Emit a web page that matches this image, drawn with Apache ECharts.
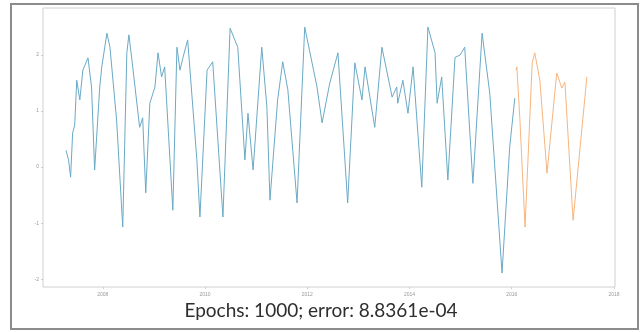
<!DOCTYPE html>
<html>
<head>
<meta charset="utf-8">
<script src="https://cdn.jsdelivr.net/npm/echarts@6/dist/echarts.min.js"></script>
<style>
  html, body { margin: 0; padding: 0; background: #fff; }
  #chart { width: 642px; height: 332px; }
</style>
</head>
<body>
<div id="chart"></div>
<script>
// Observed series (decimal year, value)
const observedYears = [
  2007.28, 2007.33, 2007.37, 2007.41, 2007.45, 2007.49, 2007.55, 2007.61, 2007.71, 2007.78,
  2007.84, 2007.94, 2007.98, 2008.08, 2008.14, 2008.27, 2008.39, 2008.47, 2008.51, 2008.57,
  2008.72, 2008.78, 2008.84, 2008.92, 2009.02, 2009.08, 2009.15, 2009.21, 2009.37, 2009.45,
  2009.51, 2009.57, 2009.66, 2009.84, 2009.90, 2010.04, 2010.15, 2010.35, 2010.49, 2010.64,
  2010.78, 2010.84, 2010.94, 2011.11, 2011.21, 2011.27, 2011.42, 2011.52, 2011.62, 2011.80,
  2011.95, 2012.19, 2012.29, 2012.44, 2012.60, 2012.79, 2012.93, 2013.07, 2013.13, 2013.32,
  2013.46, 2013.66, 2013.75, 2013.77, 2013.87, 2013.97, 2014.07, 2014.24, 2014.36, 2014.50,
  2014.54, 2014.63, 2014.75, 2014.89, 2014.99, 2015.08, 2015.24, 2015.42, 2015.57, 2015.81,
  2015.96, 2016.06
];
const observedValues = [
  0.30, 0.13, -0.18, 0.61, 0.75, 1.55, 1.20, 1.73, 1.95, 1.43,
  -0.05, 1.43, 1.79, 2.39, 2.14, 0.84, -1.07, 2.04, 2.36, 1.91,
  0.71, 0.88, -0.46, 1.14, 1.43, 2.04, 1.61, 1.79, -0.77, 2.14,
  1.73, 1.96, 2.27, 0.13, -0.89, 1.73, 1.88, -0.89, 2.48, 2.14,
  0.13, 0.96, -0.05, 2.14, 1.07, -0.59, 1.20, 1.88, 1.38, -0.64,
  2.50, 1.43, 0.79, 1.50, 2.04, -0.64, 1.86, 1.20, 1.79, 0.71,
  2.14, 1.25, 1.43, 1.14, 1.55, 0.96, 1.79, -0.36, 2.50, 2.04,
  1.14, 1.61, -0.23, 1.96, 2.00, 2.14, -0.29, 2.39, 1.32, -1.89,
  0.36, 1.23
];

// Forecast series
const forecastYears = [
  2016.08, 2016.10, 2016.16, 2016.26, 2016.40, 2016.45, 2016.55, 2016.69, 2016.88, 2016.98,
  2017.04, 2017.20, 2017.47
];
const forecastValues = [
  1.73, 1.79, 0.84, -1.07, 1.86, 2.04, 1.55, -0.11, 1.68, 1.41,
  1.52, -0.95, 1.61
];

const xTicks = [2008, 2010, 2012, 2014, 2016, 2018];
const yTicks = [-2, -1, 0, 1, 2];
const caption = 'Epochs: 1000; error: 8.8361e-04';

const pairs = (xs, ys) => xs.map((x, i) => [x, ys[i]]);

const chart = echarts.init(document.getElementById('chart'), null, { renderer: 'canvas' });
chart.setOption({
  animation: false,
  backgroundColor: '#ffffff',
  grid: { left: 43, top: 8, right: 27, bottom: 45, show: true, borderColor: '#d0d0d0', borderWidth: 1, backgroundColor: 'transparent' },
  title: {
    text: caption,
    left: 'center',
    top: 296,
    textStyle: { fontFamily: 'Lato', fontWeight: 'normal', fontSize: 19, color: '#2e2e2e' }
  },
  xAxis: {
    type: 'value',
    min: 2006.83,
    max: 2018.02,
    splitLine: { show: false },
    axisLine: { show: false, onZero: false },
    axisTick: { show: true, customValues: xTicks, length: 2, lineStyle: { color: '#cfcfcf' } },
    axisLabel: { customValues: xTicks, fontSize: 5, color: '#9a9a9a', margin: 5, formatter: v => String(v) }
  },
  yAxis: {
    type: 'value',
    min: -2.14,
    max: 2.84,
    splitLine: { show: false },
    axisLine: { show: false, onZero: false },
    axisTick: { show: true, customValues: yTicks, length: 2, lineStyle: { color: '#cfcfcf' } },
    axisLabel: { customValues: yTicks, fontSize: 5, color: '#9a9a9a', margin: 4, formatter: v => String(v) }
  },
  graphic: [{
    type: 'rect',
    shape: { x: 11, y: 4, width: 627, height: 325 },
    style: { fill: 'none', stroke: '#8c8c8c', lineWidth: 2 },
    silent: true
  }],
  series: [
    {
      type: 'line',
      data: pairs(observedYears, observedValues),
      showSymbol: false,
      lineStyle: { color: '#6aaac6', width: 1 }
    },
    {
      type: 'line',
      data: pairs(forecastYears, forecastValues),
      showSymbol: false,
      lineStyle: { color: '#f7b57e', width: 1 }
    }
  ]
});
</script>
</body>
</html>
